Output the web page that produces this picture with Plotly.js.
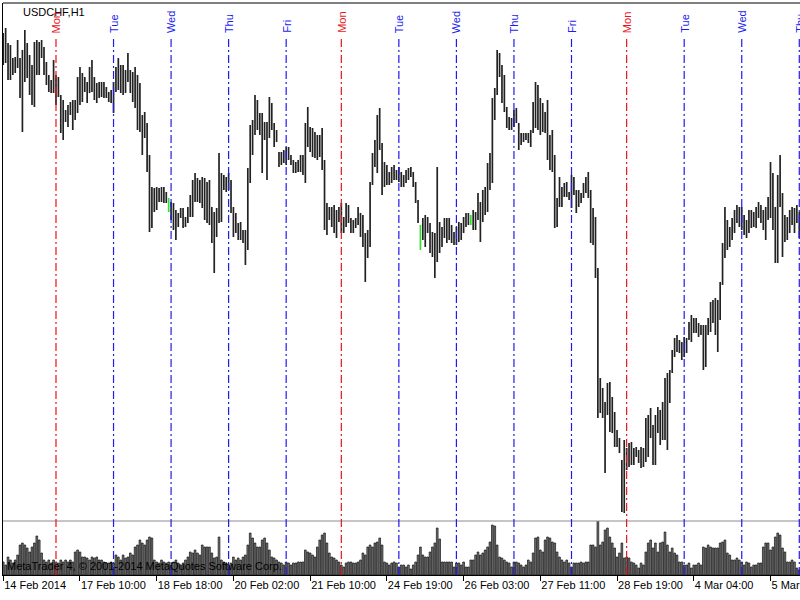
<!DOCTYPE html>
<html><head><meta charset="utf-8">
<script src="https://cdn.plot.ly/plotly-3.0.1.min.js"></script>
<style>html,body{margin:0;padding:0;background:#fff;}#chart{width:800px;height:600px;}</style>
</head><body><div id="chart"></div>
<script>
const symbolLabel = 'USDCHF,H1';
const copyrightText = 'MetaTrader 4, \u00a9 2001-2014 MetaQuotes Software Corp.';

const highs = [0.89868,0.89888,0.89828,0.8982,0.89768,0.89772,0.8984,0.89768,0.898,0.8988,
0.89828,0.8978,0.8974,0.89832,0.8984,0.89832,0.8984,0.89812,0.89752,0.897,
0.8968,0.8976,0.897,0.89692,0.8962,0.896,0.8956,0.8958,0.89592,0.896,
0.896,0.89692,0.89732,0.89708,0.89692,0.89672,0.89732,0.8976,0.89692,0.89668,
0.89672,0.89672,0.89672,0.89652,0.89632,0.8964,0.89672,0.89732,0.89768,0.8974,
0.8974,0.8972,0.89788,0.8972,0.89712,0.89732,0.897,0.89668,0.8954,0.89552,
0.89508,0.8938,0.89252,0.89248,0.89252,0.89248,0.89252,0.89252,0.89232,0.89208,
0.89192,0.89188,0.8916,0.89148,0.89168,0.89168,0.89132,0.89172,0.8922,0.8928,
0.89308,0.89288,0.8928,0.89292,0.89288,0.89272,0.8928,0.89172,0.89152,0.89168,
0.89388,0.89308,0.893,0.89292,0.89308,0.8928,0.89172,0.89148,0.89108,0.89112,
0.8908,0.8908,0.89328,0.895,0.8952,0.8962,0.896,0.89548,0.89548,0.89512,
0.89512,0.89612,0.89588,0.89508,0.8948,0.89392,0.89392,0.894,0.89412,0.89412,
0.8938,0.8936,0.89352,0.8936,0.8938,0.8938,0.89508,0.89572,0.89492,0.89488,
0.89472,0.8946,0.8946,0.89488,0.8936,0.89188,0.89172,0.89172,0.8918,0.8916,
0.89172,0.89188,0.89132,0.89188,0.8918,0.89128,0.8912,0.89128,0.89172,0.89148,
0.8914,0.89068,0.8908,0.89272,0.89388,0.8944,0.8954,0.89568,0.89428,0.89352,
0.8934,0.89312,0.89332,0.8934,0.8932,0.89332,0.89312,0.893,0.8932,0.89328,
0.89332,0.89312,0.89272,0.892,0.891,0.89128,0.8914,0.89132,0.89108,0.89072,
0.89068,0.89332,0.89112,0.89092,0.89128,0.89128,0.89128,0.891,0.89072,0.89092,
0.89112,0.89108,0.89132,0.89148,0.89148,0.8914,0.8916,0.89152,0.89228,0.89192,
0.8924,0.89252,0.89348,0.89388,0.89608,0.89648,0.898,0.89788,0.8974,0.897,
0.89572,0.89532,0.89528,0.8956,0.89568,0.89508,0.89468,0.89468,0.89468,0.89468,
0.8948,0.89592,0.89672,0.8966,0.89608,0.89588,0.89552,0.896,0.8946,0.8948,
0.8938,0.89208,0.89292,0.89252,0.89268,0.89272,0.89232,0.893,0.89292,0.8924,
0.8924,0.89228,0.89268,0.89292,0.89312,0.8924,0.89168,0.89132,0.88928,0.88488,
0.88448,0.88392,0.88468,0.88472,0.88412,0.88352,0.8828,0.88248,0.8816,0.8824,
0.88208,0.88228,0.88232,0.88208,0.88212,0.882,0.88212,0.88208,0.88328,0.8834,
0.88368,0.883,0.8834,0.88372,0.8836,0.88392,0.88488,0.88508,0.8852,0.886,
0.88648,0.8866,0.8864,0.88632,0.88652,0.88648,0.88712,0.8874,0.88728,0.88728,
0.88708,0.887,0.887,0.887,0.88728,0.88792,0.888,0.88808,0.888,0.88872,
0.89028,0.89172,0.8912,0.89092,0.89128,0.8916,0.8918,0.89172,0.89172,0.8914,
0.8912,0.8916,0.8916,0.89152,0.89172,0.89192,0.8918,0.8916,0.89172,0.89212,
0.89352,0.89308,0.89172,0.893,0.8938,0.89228,0.8914,0.89132,0.8916,0.89172,
0.89168,0.8918,0.89152];

const lows = [0.8974,0.89748,0.8968,0.8968,0.897,0.89708,0.89728,0.89608,0.89472,0.89672,
0.89688,0.8962,0.8958,0.89572,0.897,0.897,0.89768,0.897,0.8966,0.89632,
0.89628,0.89628,0.8958,0.89612,0.89468,0.8944,0.89512,0.89492,0.8954,0.8948,
0.8952,0.89548,0.8958,0.89592,0.89632,0.89588,0.89628,0.89632,0.896,0.89588,
0.89608,0.89612,0.89608,0.89608,0.89592,0.89588,0.89548,0.89632,0.8964,0.89628,
0.8962,0.89628,0.89672,0.89628,0.89592,0.89568,0.8948,0.89472,0.8938,0.89448,
0.89312,0.89072,0.89088,0.89152,0.8916,0.89192,0.89192,0.89188,0.89188,0.89152,
0.8912,0.8908,0.8904,0.89092,0.89128,0.89088,0.89092,0.89108,0.89132,0.89132,
0.89192,0.89192,0.89188,0.89168,0.8912,0.89108,0.891,0.89028,0.88908,0.89052,
0.89108,0.89112,0.8924,0.89232,0.8924,0.89148,0.89052,0.89068,0.8904,0.8904,
0.89028,0.8894,0.89,0.89268,0.8938,0.8946,0.8948,0.8946,0.89308,0.8944,
0.8928,0.89448,0.8948,0.89412,0.89432,0.89332,0.8934,0.89348,0.8934,0.8936,
0.8934,0.89308,0.89308,0.89312,0.89312,0.893,0.89268,0.89412,0.89392,0.89372,
0.89368,0.8936,0.89372,0.8932,0.8908,0.8906,0.8912,0.89092,0.89068,0.89048,
0.89112,0.89068,0.89068,0.89092,0.89108,0.89068,0.89068,0.89088,0.891,0.89052,
0.89012,0.88872,0.88968,0.89012,0.8926,0.89332,0.89308,0.894,0.8922,0.89252,
0.8926,0.8926,0.89268,0.8928,0.8928,0.89272,0.89252,0.89252,0.89268,0.8928,
0.89292,0.89252,0.89188,0.89108,0.89,0.8904,0.89012,0.89068,0.88988,0.88972,
0.88888,0.88952,0.88988,0.89012,0.89048,0.89028,0.8904,0.89028,0.8902,0.8902,
0.89032,0.8904,0.89068,0.89092,0.891,0.891,0.8908,0.8908,0.8912,0.89032,
0.89112,0.8914,0.89152,0.8924,0.89268,0.8952,0.8962,0.89692,0.89588,0.89552,
0.89488,0.8948,0.8948,0.89492,0.89508,0.894,0.8942,0.89432,0.8944,0.89428,
0.89412,0.89468,0.89488,0.8948,0.8946,0.89472,0.89468,0.8936,0.8932,0.89312,
0.89088,0.89092,0.89172,0.89172,0.89212,0.89212,0.892,0.89168,0.8922,0.89148,
0.89172,0.89188,0.89208,0.89228,0.89208,0.89028,0.8902,0.88888,0.88328,0.88348,
0.88328,0.88108,0.8834,0.88272,0.88268,0.88212,0.88212,0.88188,0.87952,0.87948,
0.8812,0.88132,0.8814,0.8814,0.88172,0.88148,0.88128,0.88132,0.88152,0.88172,
0.88248,0.8814,0.8814,0.88268,0.8822,0.8824,0.8824,0.882,0.88388,0.88508,
0.88572,0.88592,0.88588,0.8856,0.88572,0.88588,0.8864,0.88632,0.88668,0.88668,
0.88652,0.8866,0.8852,0.88532,0.8866,0.88672,0.88708,0.8866,0.88592,0.8872,
0.8886,0.88968,0.89,0.89012,0.8904,0.89068,0.89108,0.89092,0.8908,0.8906,
0.89048,0.89068,0.89088,0.89092,0.89088,0.89128,0.89108,0.8908,0.8904,0.8912,
0.89128,0.8908,0.88948,0.88948,0.89172,0.88972,0.89032,0.8904,0.89068,0.891,
0.89068,0.89108,0.89048];

const volumes = [130,100,180,150,120,150,200,300,320,300,
270,230,280,320,390,350,220,150,130,150,
120,150,130,120,150,130,150,130,150,130,
230,250,230,180,180,170,150,180,170,180,
150,150,130,120,120,130,120,200,180,150,
200,170,180,220,200,280,300,350,320,300,
350,380,370,150,130,120,150,130,120,130,
100,130,150,120,100,120,150,180,230,220,
250,220,200,300,280,280,280,220,170,180,
380,150,130,120,100,120,180,150,170,150,
180,200,300,420,370,320,280,280,350,370,
320,250,180,170,150,130,120,100,130,120,
100,120,120,130,130,130,250,230,220,200,
180,280,350,400,420,320,220,180,170,150,
130,100,80,120,130,130,120,120,130,150,
220,200,280,300,280,320,330,370,300,130,
120,100,120,130,120,80,
100,100,80,100,60,100,130,200,280,200,
180,180,230,280,320,470,360,130,130,130,
130,130,80,120,120,100,130,80,80,150,
150,200,230,200,220,250,280,330,500,490,
300,180,170,150,130,120,80,130,130,120,
100,80,100,150,130,220,370,380,250,230,
350,380,370,330,320,230,180,150,130,150,
120,80,120,120,120,130,120,130,130,300,
300,280,560,300,330,450,470,380,320,270,
180,220,320,170,180,170,130,120,100,70,
120,100,230,320,350,270,320,230,320,330,
430,300,230,270,220,200,130,130,100,100,
120,70,100,100,120,100,280,270,300,280,
270,270,270,320,330,350,220,200,150,150,
170,150,130,100,130,120,80,100,100,120,
120,280,320,320,250,280,380,420,400,270,
230,130,130,150,130,70,50];

// bars where open == close (drawn in MT4 line-graph colour)
const dojiBars = [69, 174, 195];
// first bar of each trading day and its name
const dayStarts = [22,46,70,94,118,141,165,189,213,237,260,284,308,332];
const dayNames = ['Mon','Tue','Wed','Thu','Fri','Mon','Tue','Wed','Thu','Fri','Mon','Tue','Wed','Thu'];
// time-axis labels
const tickBars = [0,32,64,96,128,160,192,224,256,288,320];
const tickLabels = ['14 Feb 2014','17 Feb 10:00','18 Feb 18:00','20 Feb 02:00','21 Feb 10:00','24 Feb 19:00','26 Feb 03:00','27 Feb 11:00','28 Feb 19:00','4 Mar 04:00','5 Mar 12:00'];

const FONT = 'Liberation Sans, Arial, sans-serif';
const barIdx = highs.map((_, i) => i);

function segments(indices) {
  const x = [], y = [];
  indices.forEach(i => { x.push(i, i, null); y.push(lows[i], highs[i], null); });
  return {x, y};
}
const normalSeg = segments(barIdx.filter(i => !dojiBars.includes(i)));
const dojiSeg = segments(dojiBars);

const traces = [
  {type:'bar', x: barIdx, y: volumes, xaxis:'x', yaxis:'y2', width:0.72,
   marker:{color:'#767676', line:{color:'#111111', width:0.7}}, hoverinfo:'skip', showlegend:false},
  {type:'scatter', mode:'lines', x: normalSeg.x, y: normalSeg.y, xaxis:'x', yaxis:'y',
   line:{color:'#222222', width:1.7}, hoverinfo:'skip', showlegend:false, connectgaps:false},
  {type:'scatter', mode:'lines', x: dojiSeg.x, y: dojiSeg.y, xaxis:'x', yaxis:'y',
   line:{color:'#33dd33', width:1.7}, hoverinfo:'skip', showlegend:false, connectgaps:false}
];

const volFrac = 54/572;
const dayColor = n => n === 'Mon' ? '#e8141c' : '#1c1cf0';

const shapes = [
  {type:'line', xref:'paper', yref:'paper', x0:0, x1:1, y0:1, y1:1, line:{color:'#000', width:1}},
  {type:'line', xref:'paper', yref:'paper', x0:0, x1:1, y0:volFrac, y1:volFrac, line:{color:'#8c8c8c', width:1}}
];
dayStarts.forEach((d, k) => {
  shapes.push({type:'line', xref:'x', yref:'paper', x0:d, x1:d, y0:0, y1:(575-38)/572,
    line:{color:dayColor(dayNames[k]), width:1.2, dash:'8px,3px,2px,3px'}});
});

const annotations = [
  {text: symbolLabel, xref:'paper', yref:'paper', x:(21-3)/797, y:(575-12)/572, xanchor:'left', yanchor:'middle',
   showarrow:false, font:{family:FONT, size:11, color:'#000'}},
  {text: copyrightText, xref:'paper', yref:'paper', x:(5-3)/797, y:(575-566)/572, xanchor:'left', yanchor:'middle',
   showarrow:false, font:{family:FONT, size:11, color:'#000'}}
];
dayStarts.forEach((d, k) => {
  annotations.push({text: dayNames[k], xref:'x', yref:'paper', x:d, y:(575-35)/572, xanchor:'center', yanchor:'bottom',
    textangle:-90, showarrow:false, font:{family:FONT, size:11, color:dayColor(dayNames[k])}});
});

const layout = {
  width:800, height:600,
  margin:{l:3, r:0, t:3, b:25, pad:0},
  paper_bgcolor:'#fff', plot_bgcolor:'#fff',
  showlegend:false, bargap:0,
  xaxis:{range:[-0.1, 332.3], anchor:'y2', showgrid:false, zeroline:false,
    showline:true, linecolor:'#000', linewidth:1,
    ticks:'outside', ticklen:5, tickcolor:'#000', tickwidth:1,
    tickmode:'array', tickvals:tickBars, ticktext:tickLabels,
    ticklabelposition:'outside right', ticklabeloverflow:'allow',
    tickfont:{family:FONT, size:11, color:'#000'}},
  yaxis:{domain:[volFrac, 1], range:[0.87916, 0.89988], showgrid:false, zeroline:false,
    showticklabels:false, ticks:'', showline:true, linecolor:'#000', linewidth:1},
  yaxis2:{domain:[0, volFrac], range:[0, 540], showgrid:false, zeroline:false,
    showticklabels:false, ticks:'', showline:true, linecolor:'#000', linewidth:1},
  shapes, annotations
};

Plotly.newPlot('chart', traces, layout, {staticPlot:true, displayModeBar:false});
</script>
</body></html>
